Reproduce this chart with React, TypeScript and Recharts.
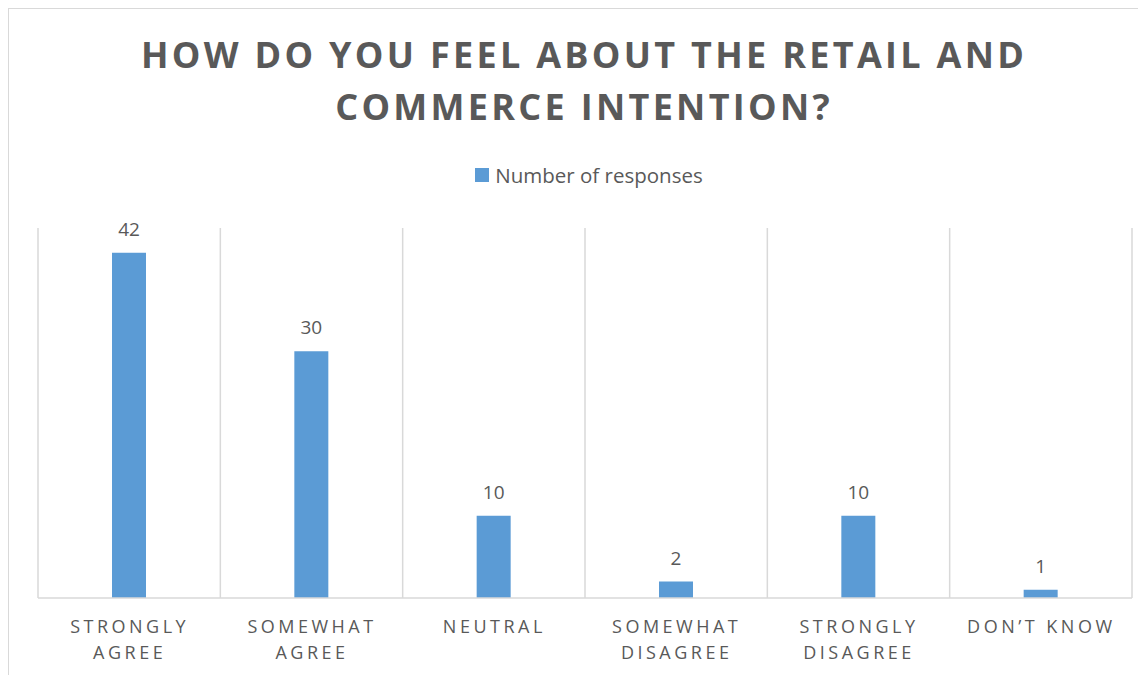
import React from 'react';
import { BarChart, Bar, XAxis, YAxis, CartesianGrid, LabelList, Legend } from 'recharts';

const categories = ['STRONGLY AGREE', 'SOMEWHAT AGREE', 'NEUTRAL', 'SOMEWHAT DISAGREE', 'STRONGLY DISAGREE', 'DON’T KNOW'];
const categoryLines = [
  ['STRONGLY', 'AGREE'],
  ['SOMEWHAT', 'AGREE'],
  ['NEUTRAL'],
  ['SOMEWHAT', 'DISAGREE'],
  ['STRONGLY', 'DISAGREE'],
  ['DON’T KNOW'],
];
const responses = [42, 30, 10, 2, 10, 1];
const seriesName = 'Number of responses';
const titleLines = ['HOW DO YOU FEEL ABOUT THE RETAIL AND', 'COMMERCE INTENTION?'];
const yDomain = [0, 45];

const data = categories.map((c, i) => ({ category: c, value: responses[i] }));

const TEXT = '#595959';
const GRID = '#d9d9d9';
const BAR = '#5b9bd5';
const FONT = '"Open Sans", sans-serif';

const CategoryTick = (props: any) => {
  const { x, y, payload } = props;
  const lines = categoryLines[payload.index] || [String(payload.value)];
  return (
    <text x={x} y={y} textAnchor="middle" fill={TEXT} fontFamily={FONT} fontSize={18} letterSpacing={3.5}>
      {lines.map((l: string, i: number) => (
        <tspan key={i} x={x + 0.5} y={y + 35 + i * 26}>{l}</tspan>
      ))}
    </text>
  );
};

const LegendContent = () => (
  <div style={{ display: 'flex', justifyContent: 'center', alignItems: 'center', paddingLeft: 23, height: 22 }}>
    <span style={{ width: 14, height: 14, background: BAR, display: 'inline-block', marginRight: 6 }} />
    <span style={{ fontFamily: FONT, fontSize: 20.5, color: TEXT, lineHeight: '22px' }}>{seriesName}</span>
  </div>
);

export default function App() {
  const W = 1137;
  const H = 666;
  return (
    <div style={{ position: 'relative', width: W, height: H, borderLeft: `1px solid ${GRID}`, borderTop: `1px solid ${GRID}`, overflow: 'hidden', background: '#fff' }}>
      {titleLines.map((t, i) => (
        <div key={i} style={{ position: 'absolute', left: 6.6, width: W, top: 20 + i * 52, height: 52, lineHeight: '52px', textAlign: 'center', fontFamily: FONT, fontWeight: 700, fontSize: 36, letterSpacing: 3.3, color: TEXT, whiteSpace: 'nowrap', zIndex: 2 }}>
          {t}
        </div>
      ))}
      <BarChart width={W} height={H} data={data} margin={{ top: 219, right: 14, left: 29, bottom: 0 }}>
        <CartesianGrid
          horizontal={false}
          stroke={GRID}
          strokeWidth={1.5}
          verticalCoordinatesGenerator={({ offset }: any) =>
            categories.map((_, i) => offset.left + (i * offset.width) / categories.length).concat([offset.left + offset.width])
          }
        />
        <XAxis dataKey="category" axisLine={{ stroke: GRID, strokeWidth: 1.5 }} tickLine={false} tickSize={0} tickMargin={0} height={77} interval={0} tick={<CategoryTick />} />
        <YAxis hide domain={yDomain} />
        <Legend verticalAlign="middle" layout="horizontal" content={<LegendContent />} wrapperStyle={{ top: 155, left: 0, width: W }} />
        <Bar dataKey="value" name={seriesName} fill={BAR} barSize={34} isAnimationActive={false}>
          <LabelList dataKey="value" position="top" offset={17} fill={TEXT} fontFamily={FONT} fontSize={19} />
        </Bar>
      </BarChart>
    </div>
  );
}
